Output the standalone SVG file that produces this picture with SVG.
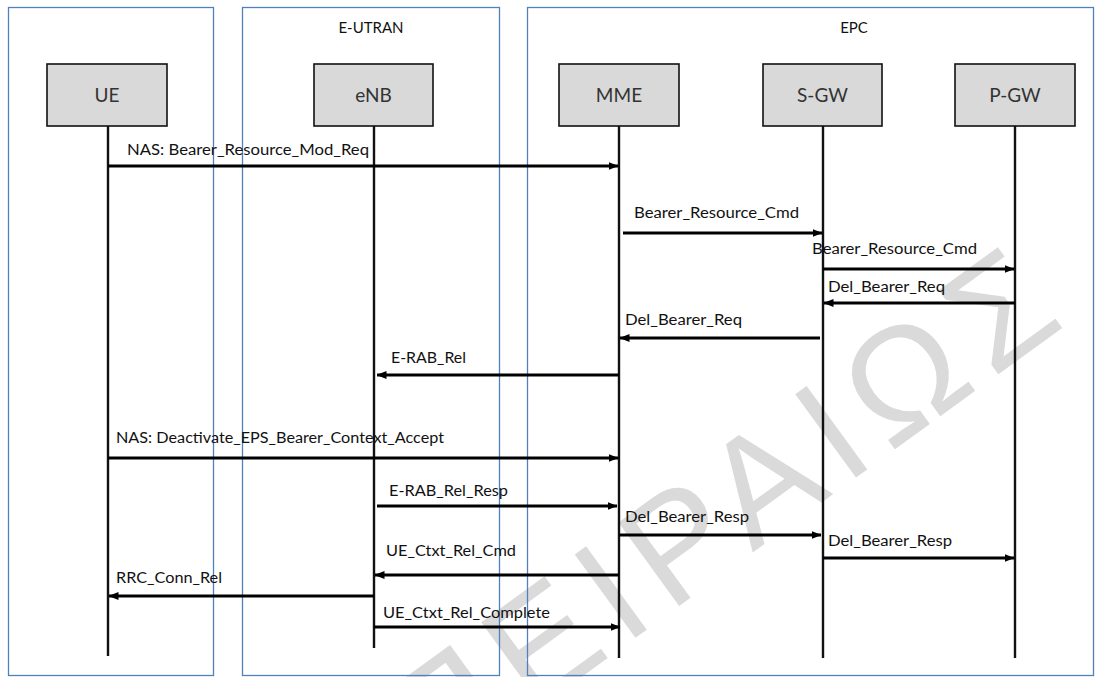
<svg xmlns="http://www.w3.org/2000/svg" width="1096" height="677" viewBox="0 0 1096 677">
<style>
.zone{fill:none;stroke:#4f81bd;stroke-width:1.3}
.ztitle{font-family:Lato,"Liberation Sans",sans-serif;font-size:15px;fill:#111;text-anchor:middle}
.part{fill:#d9d9d9;stroke:#111;stroke-width:1.6}
.ptext{font-family:Lato,"Liberation Sans",sans-serif;font-size:19px;fill:#333;text-anchor:middle}
.life{stroke:#111;stroke-width:2.4}
.msg{stroke:#000;stroke-width:2.8;fill:none}
.lbl{font-family:Lato,"Liberation Sans",sans-serif;font-size:15.5px;fill:#111}
.wm{font-family:"Liberation Sans",sans-serif;font-size:150px;letter-spacing:14px;fill:#dadada}
</style>
<defs>
<marker id="ah" viewBox="0 0 10 8" refX="9.5" refY="4" markerWidth="10" markerHeight="8" markerUnits="userSpaceOnUse" orient="auto">
<path d="M0,0 L10,4 L0,8 Z" fill="#000"/>
</marker>
</defs>
<rect width="1096" height="677" fill="#fff"/>
<g id="watermark">
<text class="wm" transform="translate(433,785) rotate(-36)">ΠΕΙΡΑΙΩΣ</text>
</g>
<g id="zone-ue"><rect class="zone" x="8.5" y="7.5" width="205" height="668"/></g>
<g id="zone-eutran"><rect class="zone" x="242.5" y="7.5" width="257" height="668"/><text class="ztitle" x="371" y="33">E-UTRAN</text></g>
<g id="zone-epc"><rect class="zone" x="527.5" y="7.5" width="566" height="668"/><text class="ztitle" x="854" y="33">EPC</text></g>
<g id="lifelines">
<line class="life" x1="108" y1="126" x2="108" y2="656"/>
<line class="life" x1="374" y1="126" x2="374" y2="648"/>
<line class="life" x1="619" y1="126" x2="619" y2="658"/>
<line class="life" x1="823" y1="126" x2="823" y2="658"/>
<line class="life" x1="1015" y1="126" x2="1015" y2="658"/>
</g>
<g id="ue"><rect class="part" x="47" y="64" width="120" height="62"/><text class="ptext" x="107" y="102">UE</text></g>
<g id="enb"><rect class="part" x="314" y="64" width="119" height="62"/><text class="ptext" x="373.5" y="102">eNB</text></g>
<g id="mme"><rect class="part" x="559" y="64" width="120" height="62"/><text class="ptext" x="619" y="102">MME</text></g>
<g id="sgw"><rect class="part" x="763" y="64" width="119" height="62"/><text class="ptext" x="822.5" y="102">S-GW</text></g>
<g id="pgw"><rect class="part" x="955" y="64" width="120" height="62"/><text class="ptext" x="1015" y="102">P-GW</text></g>
<g id="connectors">
<line class="msg" x1="108" y1="166" x2="618" y2="166" marker-end="url(#ah)"/>
<line class="msg" x1="623" y1="233" x2="822" y2="233" marker-end="url(#ah)"/>
<line class="msg" x1="823" y1="269" x2="1014" y2="269" marker-end="url(#ah)"/>
<line class="msg" x1="1015" y1="303" x2="824" y2="303" marker-end="url(#ah)"/>
<line class="msg" x1="820" y1="338" x2="620" y2="338" marker-end="url(#ah)"/>
<line class="msg" x1="619" y1="375" x2="377" y2="375" marker-end="url(#ah)"/>
<line class="msg" x1="108" y1="458" x2="618" y2="458" marker-end="url(#ah)"/>
<line class="msg" x1="377" y1="506" x2="617" y2="506" marker-end="url(#ah)"/>
<line class="msg" x1="619" y1="535" x2="821" y2="535" marker-end="url(#ah)"/>
<line class="msg" x1="823" y1="558" x2="1014" y2="558" marker-end="url(#ah)"/>
<line class="msg" x1="619" y1="575" x2="375" y2="575" marker-end="url(#ah)"/>
<line class="msg" x1="374" y1="596" x2="109" y2="596" marker-end="url(#ah)"/>
<line class="msg" x1="374" y1="627" x2="620" y2="627" marker-end="url(#ah)"/>
</g>
<g id="labels">
<text class="lbl" x="127" y="155" textLength="242" lengthAdjust="spacingAndGlyphs">NAS: Bearer_Resource_Mod_Req</text>
<text class="lbl" x="634" y="218" textLength="165" lengthAdjust="spacingAndGlyphs">Bearer_Resource_Cmd</text>
<text class="lbl" x="812" y="254" textLength="165" lengthAdjust="spacingAndGlyphs">Bearer_Resource_Cmd</text>
<text class="lbl" x="828" y="292" textLength="117" lengthAdjust="spacingAndGlyphs">Del_Bearer_Req</text>
<text class="lbl" x="625" y="325" textLength="117" lengthAdjust="spacingAndGlyphs">Del_Bearer_Req</text>
<text class="lbl" x="391" y="363" textLength="75" lengthAdjust="spacingAndGlyphs">E-RAB_Rel</text>
<text class="lbl" x="116" y="443" textLength="328" lengthAdjust="spacingAndGlyphs">NAS: Deactivate_EPS_Bearer_Context_Accept</text>
<text class="lbl" x="389" y="496" textLength="119" lengthAdjust="spacingAndGlyphs">E-RAB_Rel_Resp</text>
<text class="lbl" x="625" y="522" textLength="124" lengthAdjust="spacingAndGlyphs">Del_Bearer_Resp</text>
<text class="lbl" x="828" y="546" textLength="124" lengthAdjust="spacingAndGlyphs">Del_Bearer_Resp</text>
<text class="lbl" x="386" y="556" textLength="130" lengthAdjust="spacingAndGlyphs">UE_Ctxt_Rel_Cmd</text>
<text class="lbl" x="116" y="583" textLength="106" lengthAdjust="spacingAndGlyphs">RRC_Conn_Rel</text>
<text class="lbl" x="383" y="618" textLength="167" lengthAdjust="spacingAndGlyphs">UE_Ctxt_Rel_Complete</text>
</g>
</svg>
